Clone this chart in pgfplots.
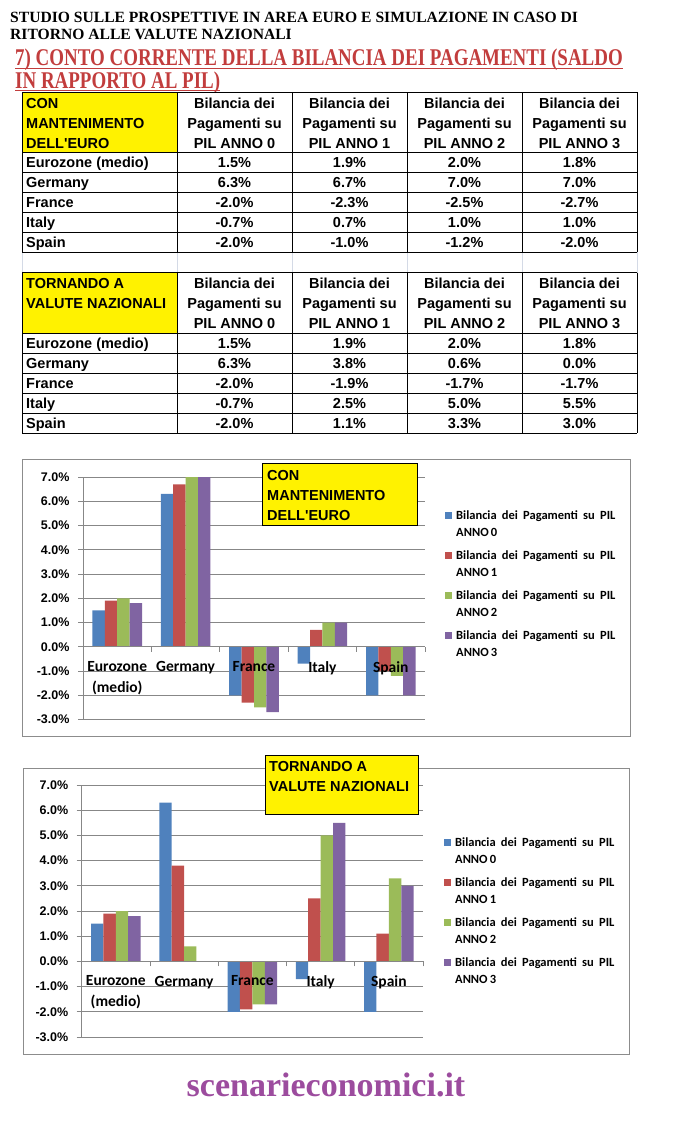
\documentclass[border=0pt]{standalone}
\usepackage{pgfplots}
\pgfplotsset{compat=1.18}
\usepackage{fontspec}
\setmainfont{Liberation Sans}
\newfontfamily\timesf{Liberation Serif}
\newfontfamily\arialf{Liberation Sans}
\newfontfamily\calf{Carlito}
\usepackage{graphicx}

\definecolor{s0}{HTML}{4F81BD}
\definecolor{s1}{HTML}{C0504D}
\definecolor{s2}{HTML}{9BBB59}
\definecolor{s3}{HTML}{8064A2}
\definecolor{redt}{HTML}{C23D3D}
\definecolor{purp}{HTML}{9C4C9E}
\definecolor{gridg}{HTML}{878787}
\definecolor{frameg}{HTML}{8C8C8C}
\definecolor{xlgrid}{HTML}{D4DAE6}

\newcommand{\tabfont}{\arialf\bfseries\fontsize{14.5}{20}\selectfont}
\newcommand{\wsp}{\hspace{5.2pt}}
\newcommand{\lone}{Bilancia\wsp dei\wsp Pagamenti\wsp su\wsp PIL}
\newcommand{\ltwo}[1]{\raisebox{3pt}{ANNO\,#1}}
\newcommand{\ulred}[1]{\setbox0\hbox{\scalebox{0.79}[1]{#1}}\rlap{\rule[-3.0pt]{\wd0}{1.4pt}}\box0}

\pgfplotsset{
  layers/barsbelow/.define layer set={axis background,axis grid,main,axis ticks,axis lines,axis tick labels,axis descriptions,axis foreground}{
    grid style={/pgfplots/on layer=axis grid},
    tick style={/pgfplots/on layer=axis ticks},
    axis line style={/pgfplots/on layer=axis lines},
    label style={/pgfplots/on layer=axis descriptions},
    legend style={/pgfplots/on layer=axis descriptions},
    title style={/pgfplots/on layer=axis descriptions},
    colorbar style={/pgfplots/on layer=axis descriptions},
    ticklabel style={/pgfplots/on layer=axis tick labels},
    axis background@ style={/pgfplots/on layer=axis background},
    3d box foreground style={/pgfplots/on layer=axis foreground},
  },
  chartstyle/.style={
    set layers=barsbelow,
    scale only axis,
    xmin=-0.5, xmax=4.5, ymin=-3, ymax=7,
    ybar=0pt, bar width=12.4pt,
    axis y line=left, axis x line=middle,
    axis line style={draw=gridg, line width=0.8pt, -},
    hide obscured x ticks=false, hide obscured y ticks=false,
    ytick={-3,-2,-1,0,1,2,3,4,5,6,7},
    yticklabels={-3.0\%,-2.0\%,-1.0\%,0.0\%,1.0\%,2.0\%,3.0\%,4.0\%,5.0\%,6.0\%,7.0\%},
    ymajorgrids, grid style={gridg, line width=0.8pt},
    xtick={0,1,2,3,4},
    xticklabels={{Eurozone\\(medio)},Germany,France,Italy,Spain},
    x tick label style={align=center, font=\calf\bfseries\fontsize{15.5}{21}\selectfont, yshift=-6pt},
    y tick label style={font=\arialf\bfseries\fontsize{12.5}{14}\selectfont, xshift=-5pt},
    major x tick style={draw=none},
    minor xtick={-0.5,0.5,1.5,2.5,3.5,4.5},
    minor x tick style={draw=gridg, line width=0.8pt},
    y tick style={draw=gridg, line width=0.8pt},
    tick align=outside, major tick length=5pt, minor tick length=5pt,
    legend style={draw=none, fill=none, anchor=north west, inner sep=0pt, row sep=5pt, column sep=4pt,
      nodes={inner sep=0pt, text height=12pt, text depth=3pt, font=\calf\bfseries\fontsize{12.5}{17}\selectfont}},
    legend cell align=left,
    legend image code/.code={\fill[##1] (0pt,-4pt) rectangle (7pt,3pt);},
  }
}

\begin{document}
\begin{tikzpicture}[x=1pt,y=1pt]
\path (0,0) rectangle (672,-1124);

% ---------- titles ----------
\node[anchor=base west, inner sep=0pt, font=\timesf\bfseries\fontsize{15.6}{17}\selectfont] at (10,-23)
  {\vtop{\baselineskip=17pt\lineskiplimit=-50pt\hbox{STUDIO SULLE PROSPETTIVE IN AREA EURO E SIMULAZIONE IN CASO DI}\hbox{RITORNO ALLE VALUTE NAZIONALI}}};
\node[anchor=base west, inner sep=0pt, text=redt, font=\timesf\bfseries\fontsize{24}{26}\selectfont] at (15,-66)
  {\vtop{\baselineskip=22.5pt\lineskiplimit=-50pt\hbox{\ulred{7) CONTO CORRENTE DELLA BILANCIA DEI PAGAMENTI (SALDO}}\hbox{\ulred{IN RAPPORTO AL PIL)}}}};

% ---------- table 1 ----------
\fill[yellow] (22,-92) rectangle (177,-152.3);
\foreach \x in {22,177,292,407,522,637} \draw[xlgrid, line width=0.8pt] (\x,-252.3) -- (\x,-272.7);
\foreach \x in {22,177,292,407,522,637} \draw[black, line width=0.9pt] (\x,-92) -- (\x,-252.3);
\foreach \y in {92,152.3,172.3,192.3,212.3,232.3,252.3} \draw[black, line width=0.9pt] (22,-\y) -- (637,-\y);
\node[anchor=base west, inner sep=0pt, font=\tabfont] at (26,-108) {CON};
\node[anchor=base west, inner sep=0pt, font=\tabfont] at (26,-128) {MANTENIMENTO};
\node[anchor=base west, inner sep=0pt, font=\tabfont] at (26,-148) {DELL'EURO};
\foreach \cx/\k in {234.5/0,349.5/1,464.5/2,579.5/3} {
  \node[anchor=base, inner sep=0pt, font=\tabfont] at (\cx,-108) {Bilancia dei};
  \node[anchor=base, inner sep=0pt, font=\tabfont] at (\cx,-128) {Pagamenti su};
  \node[anchor=base, inner sep=0pt, font=\tabfont] at (\cx,-148) {PIL ANNO \k};
}
\foreach \n/\a/\b/\c/\d [count=\i] in {
  Eurozone (medio)/1.5\%/1.9\%/2.0\%/1.8\%,
  Germany/6.3\%/6.7\%/7.0\%/7.0\%,
  France/-2.0\%/-2.3\%/-2.5\%/-2.7\%,
  Italy/-0.7\%/0.7\%/1.0\%/1.0\%,
  Spain/-2.0\%/-1.0\%/-1.2\%/-2.0\%} {
  \pgfmathsetmacro{\yb}{-152.3-20*\i+4.5}
  \node[anchor=base west, inner sep=0pt, font=\tabfont] at (26,\yb) {\n};
  \node[anchor=base, inner sep=0pt, font=\tabfont] at (234.5,\yb) {\a};
  \node[anchor=base, inner sep=0pt, font=\tabfont] at (349.5,\yb) {\b};
  \node[anchor=base, inner sep=0pt, font=\tabfont] at (464.5,\yb) {\c};
  \node[anchor=base, inner sep=0pt, font=\tabfont] at (579.5,\yb) {\d};
}

% ---------- table 2 ----------
\fill[yellow] (22,-272.7) rectangle (177,-333);
\foreach \x in {22,177,292,407,522,637} \draw[black, line width=0.9pt] (\x,-272.7) -- (\x,-433);
\foreach \y in {272.7,333,353,373,393,413,433} \draw[black, line width=0.9pt] (22,-\y) -- (637,-\y);
\node[anchor=base west, inner sep=0pt, font=\tabfont] at (26,-288.7) {TORNANDO A};
\node[anchor=base west, inner sep=0pt, font=\tabfont] at (26,-308.7) {VALUTE NAZIONALI};
\foreach \cx/\k in {234.5/0,349.5/1,464.5/2,579.5/3} {
  \node[anchor=base, inner sep=0pt, font=\tabfont] at (\cx,-288.7) {Bilancia dei};
  \node[anchor=base, inner sep=0pt, font=\tabfont] at (\cx,-308.7) {Pagamenti su};
  \node[anchor=base, inner sep=0pt, font=\tabfont] at (\cx,-328.7) {PIL ANNO \k};
}
\foreach \n/\a/\b/\c/\d [count=\i] in {
  Eurozone (medio)/1.5\%/1.9\%/2.0\%/1.8\%,
  Germany/6.3\%/3.8\%/0.6\%/0.0\%,
  France/-2.0\%/-1.9\%/-1.7\%/-1.7\%,
  Italy/-0.7\%/2.5\%/5.0\%/5.5\%,
  Spain/-2.0\%/1.1\%/3.3\%/3.0\%} {
  \pgfmathsetmacro{\yb}{-333-20*\i+4.5}
  \node[anchor=base west, inner sep=0pt, font=\tabfont] at (26,\yb) {\n};
  \node[anchor=base, inner sep=0pt, font=\tabfont] at (234.5,\yb) {\a};
  \node[anchor=base, inner sep=0pt, font=\tabfont] at (349.5,\yb) {\b};
  \node[anchor=base, inner sep=0pt, font=\tabfont] at (464.5,\yb) {\c};
  \node[anchor=base, inner sep=0pt, font=\tabfont] at (579.5,\yb) {\d};
}

% ---------- chart 1 ----------
\draw[frameg, line width=0.9pt] (22.7,-459) rectangle (630.7,-736.7);
\begin{axis}[chartstyle,
  at={(83pt,-719.5pt)}, anchor=south west,
  width=342pt, height=242.5pt,
  legend style={at={(axis description cs:1.0585,0.876)}},
]
\addplot[fill=s0, draw=none, bar shift=-18.6pt] coordinates {(0,1.5) (1,6.3) (2,-2.0) (3,-0.7) (4,-2.0)};
\addlegendentry{\lone}
\addlegendimage{empty legend}\addlegendentry{\ltwo{0}}
\addplot[fill=s1, draw=none, bar shift=-6.2pt] coordinates {(0,1.9) (1,6.7) (2,-2.3) (3,0.7) (4,-1.0)};
\addlegendentry{\lone}
\addlegendimage{empty legend}\addlegendentry{\ltwo{1}}
\addplot[fill=s2, draw=none, bar shift=6.2pt] coordinates {(0,2.0) (1,7.0) (2,-2.5) (3,1.0) (4,-1.2)};
\addlegendentry{\lone}
\addlegendimage{empty legend}\addlegendentry{\ltwo{2}}
\addplot[fill=s3, draw=none, bar shift=18.6pt] coordinates {(0,1.8) (1,7.0) (2,-2.7) (3,1.0) (4,-2.0)};
\addlegendentry{\lone}
\addlegendimage{empty legend}\addlegendentry{\ltwo{3}}
\end{axis}
\filldraw[fill=yellow, draw=black, line width=0.8pt] (262,-463) rectangle (417,-525);
\node[anchor=base west, inner sep=0pt, font=\tabfont] at (267,-480) {CON};
\node[anchor=base west, inner sep=0pt, font=\tabfont] at (267,-500) {MANTENIMENTO};
\node[anchor=base west, inner sep=0pt, font=\tabfont] at (267,-520) {DELL'EURO};

% ---------- chart 2 ----------
\draw[frameg, line width=0.9pt] (23,-768) rectangle (629,-1054);
\begin{axis}[chartstyle,
  at={(81.7pt,-1037pt)}, anchor=south west,
  width=341.3pt, height=252pt,
  legend style={at={(axis description cs:1.0615,0.806)}},
]
\addplot[fill=s0, draw=none, bar shift=-18.6pt] coordinates {(0,1.5) (1,6.3) (2,-2.0) (3,-0.7) (4,-2.0)};
\addlegendentry{\lone}
\addlegendimage{empty legend}\addlegendentry{\ltwo{0}}
\addplot[fill=s1, draw=none, bar shift=-6.2pt] coordinates {(0,1.9) (1,3.8) (2,-1.9) (3,2.5) (4,1.1)};
\addlegendentry{\lone}
\addlegendimage{empty legend}\addlegendentry{\ltwo{1}}
\addplot[fill=s2, draw=none, bar shift=6.2pt] coordinates {(0,2.0) (1,0.6) (2,-1.7) (3,5.0) (4,3.3)};
\addlegendentry{\lone}
\addlegendimage{empty legend}\addlegendentry{\ltwo{2}}
\addplot[fill=s3, draw=none, bar shift=18.6pt] coordinates {(0,1.8) (1,0.0) (2,-1.7) (3,5.5) (4,3.0)};
\addlegendentry{\lone}
\addlegendimage{empty legend}\addlegendentry{\ltwo{3}}
\end{axis}
\filldraw[fill=yellow, draw=black, line width=0.8pt] (265,-755) rectangle (418,-814);
\node[anchor=base west, inner sep=0pt, font=\tabfont] at (269,-771) {TORNANDO A};
\node[anchor=base west, inner sep=0pt, font=\tabfont] at (269,-791) {VALUTE NAZIONALI};

% ---------- footer ----------
\node[anchor=base, inner sep=0pt, text=purp, font=\timesf\bfseries\fontsize{34}{36}\selectfont] at (326,-1096) {scenarieconomici.it};
\end{tikzpicture}
\end{document}
